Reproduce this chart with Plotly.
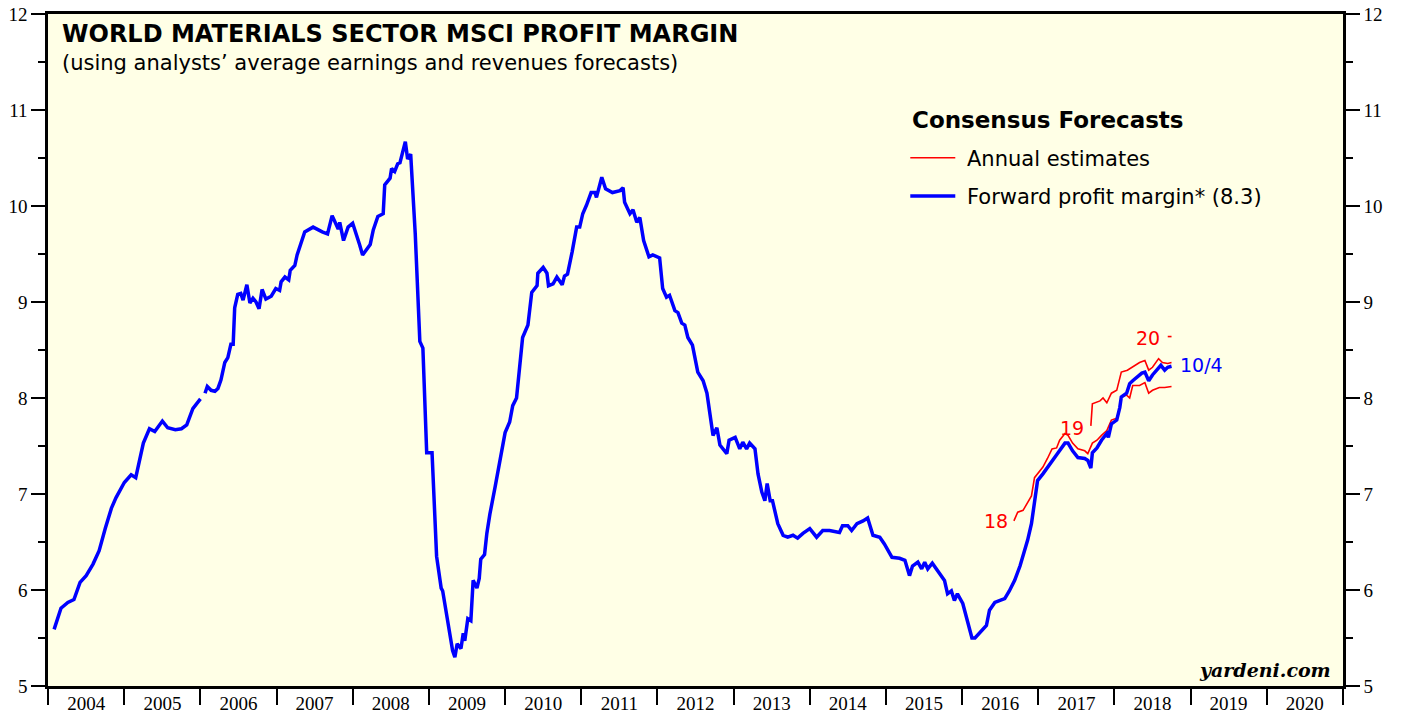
import pandas as pd
import plotly.graph_objects as go

# ---- data (decimal years, profit margin %) ----
blue_years = [
    2004.08, 2004.17, 2004.26, 2004.34, 2004.42, 2004.50, 2004.59, 2004.67, 2004.75, 2004.83,
    2004.89, 2005.00, 2005.09, 2005.15, 2005.25, 2005.33, 2005.40, 2005.50, 2005.57, 2005.67,
    2005.75, 2005.82, 2005.90, 2006.00, 2006.03,
    2006.06, 2006.09, 2006.14, 2006.19, 2006.23, 2006.27, 2006.32, 2006.36, 2006.40, 2006.43,
    2006.45, 2006.49, 2006.53, 2006.56, 2006.61, 2006.65, 2006.69, 2006.73, 2006.77, 2006.81,
    2006.86, 2006.93, 2006.99, 2007.04, 2007.06, 2007.11, 2007.16, 2007.18, 2007.24, 2007.27,
    2007.37, 2007.48, 2007.60, 2007.67, 2007.73, 2007.81, 2007.83, 2007.88, 2007.94, 2008.00,
    2008.09, 2008.13, 2008.23, 2008.27, 2008.33, 2008.40, 2008.42, 2008.49, 2008.51, 2008.55,
    2008.59, 2008.62, 2008.69, 2008.72, 2008.76, 2008.82, 2008.88, 2008.92, 2008.97, 2009.04,
    2009.10, 2009.16, 2009.18, 2009.24, 2009.28, 2009.31, 2009.34, 2009.37, 2009.42, 2009.45,
    2009.47, 2009.51, 2009.55, 2009.58, 2009.63, 2009.66, 2009.68, 2009.73, 2009.76, 2009.80,
    2009.87, 2009.93, 2010.00, 2010.06, 2010.10, 2010.15, 2010.18, 2010.23, 2010.30, 2010.35,
    2010.42, 2010.43, 2010.50, 2010.55, 2010.57, 2010.63, 2010.68, 2010.75, 2010.78, 2010.82,
    2010.88, 2010.94, 2010.98, 2011.02, 2011.07, 2011.13, 2011.18, 2011.20, 2011.27, 2011.32,
    2011.41, 2011.51, 2011.55, 2011.57, 2011.64, 2011.68, 2011.73, 2011.77, 2011.82, 2011.89,
    2011.94, 2012.03, 2012.07, 2012.12, 2012.16, 2012.23, 2012.27, 2012.32, 2012.36, 2012.40,
    2012.46, 2012.53, 2012.60, 2012.65, 2012.73, 2012.78, 2012.82, 2012.91, 2012.94, 2013.02,
    2013.08, 2013.12, 2013.17, 2013.21, 2013.28, 2013.32, 2013.37, 2013.41, 2013.44, 2013.48,
    2013.51, 2013.58, 2013.65, 2013.71, 2013.78, 2013.84, 2013.91, 2014.00, 2014.09, 2014.17,
    2014.26, 2014.39, 2014.43, 2014.50, 2014.55, 2014.62, 2014.70, 2014.76, 2014.83, 2014.92,
    2014.98, 2015.08, 2015.18, 2015.25, 2015.31, 2015.35, 2015.42, 2015.47, 2015.51, 2015.55,
    2015.61, 2015.68, 2015.77, 2015.81, 2015.86, 2015.90, 2015.94, 2016.01, 2016.06, 2016.13,
    2016.17, 2016.26, 2016.32, 2016.36, 2016.43, 2016.49, 2016.56, 2016.62, 2016.69, 2016.76,
    2016.82, 2016.86, 2016.91, 2016.95, 2016.99, 2017.06, 2017.12, 2017.19, 2017.25, 2017.35,
    2017.39, 2017.45, 2017.52, 2017.61, 2017.65, 2017.69, 2017.71, 2017.77, 2017.83, 2017.90,
    2017.92, 2017.96, 2018.03, 2018.07, 2018.09, 2018.16, 2018.20, 2018.24, 2018.29, 2018.36,
    2018.40, 2018.45, 2018.50, 2018.55, 2018.61, 2018.66, 2018.70, 2018.75,
]
blue_values = [
    5.59, 5.81, 5.87, 5.90, 6.08, 6.15, 6.27, 6.41, 6.64, 6.85,
    6.96, 7.12, 7.20, 7.17, 7.53, 7.68, 7.65, 7.76, 7.69, 7.67,
    7.68, 7.72, 7.89, 7.99, None,
    8.05, 8.12, 8.08, 8.07, 8.10, 8.19, 8.37, 8.42, 8.56, 8.56,
    8.94, 9.08, 9.09, 9.02, 9.18, 8.99, 9.04, 9.00, 8.93, 9.13,
    9.03, 9.06, 9.14, 9.12, 9.21, 9.26, 9.23, 9.33, 9.38, 9.49,
    9.73, 9.78, 9.73, 9.71, 9.90, 9.76, 9.83, 9.64, 9.78, 9.82,
    9.60, 9.49, 9.60, 9.75, 9.89, 9.92, 10.22, 10.29, 10.39, 10.36,
    10.44, 10.45, 10.67, 10.49, 10.54, 9.71, 8.59, 8.52, 7.43, 7.43,
    6.35, 6.02, 5.99, 5.70, 5.56, 5.37, 5.30, 5.44, 5.39, 5.55,
    5.47, 5.70, 5.68, 6.10, 6.02, 6.12, 6.32, 6.37, 6.59, 6.79,
    7.08, 7.35, 7.64, 7.75, 7.92, 8.00, 8.21, 8.63, 8.76, 9.10,
    9.17, 9.30, 9.36, 9.30, 9.17, 9.19, 9.26, 9.18, 9.27, 9.29,
    9.52, 9.78, 9.78, 9.92, 10.01, 10.14, 10.14, 10.09, 10.30, 10.18,
    10.14, 10.16, 10.19, 10.04, 9.92, 9.96, 9.83, 9.88, 9.64, 9.47,
    9.49, 9.46, 9.14, 9.05, 9.07, 8.91, 8.89, 8.78, 8.76, 8.63,
    8.55, 8.27, 8.18, 8.05, 7.61, 7.69, 7.51, 7.42, 7.56, 7.59,
    7.47, 7.54, 7.47, 7.53, 7.47, 7.21, 7.02, 6.93, 7.11, 6.93,
    6.93, 6.69, 6.57, 6.55, 6.57, 6.54, 6.59, 6.64, 6.55, 6.62,
    6.62, 6.60, 6.67, 6.67, 6.62, 6.69, 6.72, 6.75, 6.57, 6.55,
    6.48, 6.34, 6.33, 6.31, 6.15, 6.25, 6.29, 6.22, 6.29, 6.22,
    6.28, 6.20, 6.10, 5.96, 5.99, 5.89, 5.96, 5.86, 5.70, 5.50,
    5.50, 5.58, 5.63, 5.79, 5.87, 5.89, 5.91, 5.99, 6.10, 6.25,
    6.41, 6.52, 6.69, 6.91, 7.14, 7.21, 7.28, 7.35, 7.42, 7.53,
    7.53, 7.45, 7.38, 7.37, 7.35, 7.27, 7.43, 7.48, 7.56, 7.63,
    7.59, 7.73, 7.77, 7.90, 8.01, 8.05, 8.15, 8.18, 8.21, 8.26,
    8.27, 8.18, 8.24, 8.29, 8.34, 8.29, 8.32, 8.33,
]

est18_years = [
    2016.68, 2016.73, 2016.80, 2016.85, 2016.91, 2016.95, 2016.99, 2017.06, 2017.12, 2017.18,
    2017.24, 2017.28, 2017.35, 2017.39, 2017.45, 2017.52, 2017.61, 2017.65, 2017.71, 2017.77,
    2017.83, 2017.90, 2017.96, 2018.03, 2018.07, 2018.09, 2018.16, 2018.20, 2018.24, 2018.33,
    2018.40, 2018.45, 2018.50, 2018.59, 2018.66, 2018.75,
]
est18_values = [
    6.72, 6.81, 6.83, 6.90, 6.98, 7.17, 7.21, 7.28, 7.37, 7.47,
    7.48, 7.56, 7.63, 7.61, 7.53, 7.47, 7.45, 7.42, 7.53, 7.56,
    7.61, 7.66, 7.77, 7.79, 7.90, 8.01, 8.03, 8.00, 8.13, 8.13,
    8.16, 8.05, 8.08, 8.11, 8.11, 8.12,
]
est19_years = [
    2017.69, 2017.71, 2017.81, 2017.85, 2017.90, 2017.96, 2018.03, 2018.09, 2018.17, 2018.23,
    2018.33, 2018.40, 2018.45, 2018.50, 2018.58, 2018.63, 2018.70, 2018.75,
]
est19_values = [
    7.71, 7.94, 7.97, 8.00, 7.95, 8.05, 8.08, 8.27, 8.29, 8.32,
    8.37, 8.39, 8.29, 8.32, 8.41, 8.37, 8.36, 8.37,
]
est20_years = [2018.70, 2018.75]
est20_values = [8.64, 8.64]

x_range = ["2004-01-01", "2021-01-01"]
y_range = [5, 12]


def to_date(y):
    yr = int(y)
    start = pd.Timestamp(year=yr, month=1, day=1)
    end = pd.Timestamp(year=yr + 1, month=1, day=1)
    return start + (end - start) * (y - yr)


def dates(lst):
    return [to_date(v) for v in lst]


RED = "#FF0000"
BLUE = "#0000FF"
SANS = "DejaVu Sans, Liberation Sans, Arial, sans-serif"
SERIF = "Liberation Serif, Times New Roman, serif"

fig = go.Figure()
fig.add_trace(go.Scatter(x=dates(est18_years), y=est18_values, mode="lines",
                         line=dict(color=RED, width=1.6), name="\u00a0Annual estimates",
                         legendgroup="a", hoverinfo="skip"))
fig.add_trace(go.Scatter(x=dates(est19_years), y=est19_values, mode="lines",
                         line=dict(color=RED, width=1.6), showlegend=False,
                         legendgroup="a", hoverinfo="skip"))
fig.add_trace(go.Scatter(x=dates(est20_years), y=est20_values, mode="lines",
                         line=dict(color=RED, width=1.6), showlegend=False,
                         legendgroup="a", hoverinfo="skip"))
fig.add_trace(go.Scatter(x=dates(blue_years), y=blue_values, mode="lines",
                         line=dict(color=BLUE, width=3.5),
                         name="\u00a0Forward profit margin* (8.3)",
                         legendgroup="b", connectgaps=False, hoverinfo="skip"))
# trace for the right-hand axis
fig.add_trace(go.Scatter(x=[to_date(2004.5)], y=[None], yaxis="y2", showlegend=False,
                         mode="lines", hoverinfo="skip"))

axis_common = dict(range=y_range, dtick=1, tick0=5, ticks="outside", ticklen=14, tickwidth=1.5,
                   tickcolor="black", showline=True, linewidth=2.5, linecolor="black",
                   showgrid=False, zeroline=False, automargin=False,
                   tickfont=dict(family=SERIF, size=19, color="black"),
                   minor=dict(dtick=0.5, ticks="outside", ticklen=7, tickwidth=1.5,
                              tickcolor="black", showgrid=False))

fig.update_layout(
    width=1403, height=717,
    margin=dict(l=48, r=60, t=14, b=31),
    paper_bgcolor="white", plot_bgcolor="#FFFFE6",
    showlegend=True,
    xaxis=dict(type="date", range=x_range, dtick="M12", tick0="2004-01-01",
               tickformat="%Y", ticklabelmode="period", ticks="outside", ticklen=16,
               tickwidth=2, tickcolor="black", showline=True, linewidth=2.5,
               linecolor="black", mirror=True, showgrid=False, zeroline=False,
               automargin=False, ticklabelstandoff=-18,
               tickfont=dict(family=SERIF, size=19, color="black")),
    yaxis=axis_common,
    yaxis2=dict(overlaying="y", side="right", **axis_common),
    legend=dict(x=0.662, y=0.816, xanchor="left", yanchor="top", bgcolor="rgba(0,0,0,0)",
                font=dict(family=SANS, size=21, color="black"),
                traceorder="grouped", tracegroupgap=8, itemwidth=45),
)

annotations = [
    dict(text="<b>WORLD MATERIALS SECTOR MSCI PROFIT MARGIN</b>", xref="paper", yref="paper",
         x=0.009, y=0.970, xanchor="left", yanchor="middle", showarrow=False,
         font=dict(family=SANS, size=24, color="black")),
    dict(text="(using analysts\u2019 average earnings and revenues forecasts)", xref="paper",
         yref="paper", x=0.009, y=0.927, xanchor="left", yanchor="middle", showarrow=False,
         font=dict(family=SANS, size=21, color="black")),
    dict(text="<b>Consensus Forecasts</b>", xref="paper", yref="paper", x=0.666, y=0.842,
         xanchor="left", yanchor="middle", showarrow=False,
         font=dict(family=SANS, size=23, color="black")),
    dict(text="<b><i>yardeni.com</i></b>", xref="paper", yref="paper", x=0.992, y=0.024,
         xanchor="right", yanchor="middle", showarrow=False,
         font=dict(family="DejaVu Serif, serif", size=19, color="black")),
    dict(text="18", x=to_date(2016.63), y=6.72, xanchor="right", yanchor="middle",
         showarrow=False, font=dict(family=SANS, size=19, color=RED)),
    dict(text="19", x=to_date(2017.63), y=7.69, xanchor="right", yanchor="middle",
         showarrow=False, font=dict(family=SANS, size=19, color=RED)),
    dict(text="20", x=to_date(2018.63), y=8.63, xanchor="right", yanchor="middle",
         showarrow=False, font=dict(family=SANS, size=19, color=RED)),
    dict(text="10/4", x=to_date(2018.83), y=8.34, xanchor="left", yanchor="middle",
         showarrow=False, font=dict(family=SANS, size=19, color=BLUE)),
]
fig.update_layout(annotations=annotations)

fig.write_html("out.html")
